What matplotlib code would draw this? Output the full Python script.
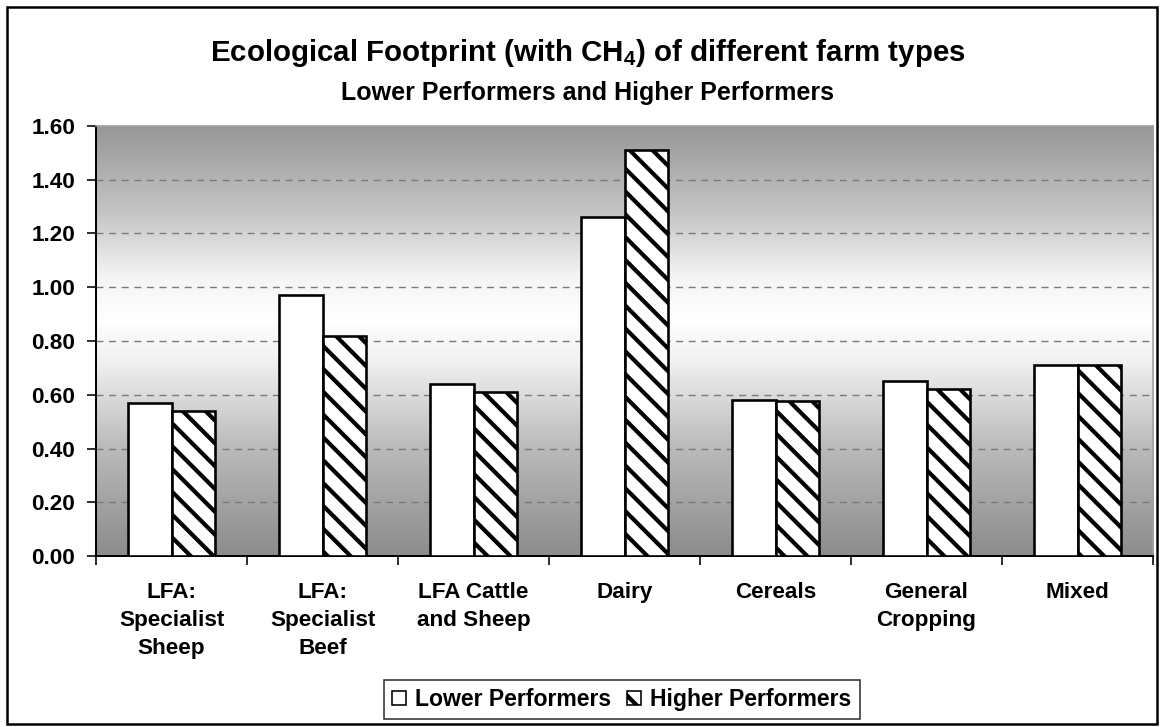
import numpy as np
import matplotlib
matplotlib.use("Agg")
import matplotlib.pyplot as plt
from matplotlib.colors import LinearSegmentedColormap
from matplotlib.patches import Rectangle

# a higher dpi makes the hatch denser (hatch spacing is fixed per inch)
DPI = 137


def px(p):
    # pixel size -> points at this dpi
    return p * 72.0 / DPI


plt.rcParams['font.family'] = ['Liberation Sans', 'DejaVu Sans']
plt.rcParams['font.weight'] = 'bold'
plt.rcParams['mathtext.fontset'] = 'custom'
plt.rcParams['mathtext.rm'] = 'Liberation Sans:bold'
plt.rcParams['mathtext.default'] = 'rm'
plt.rcParams['hatch.linewidth'] = px(4.2)

# data
categories = ['LFA:\nSpecialist\nSheep', 'LFA:\nSpecialist\nBeef', 'LFA Cattle\nand Sheep',
              'Dairy', 'Cereals', 'General\nCropping', 'Mixed']
lower_perf = [0.57, 0.97, 0.64, 1.26, 0.58, 0.65, 0.71]
higher_perf = [0.54, 0.82, 0.61, 1.51, 0.575, 0.62, 0.71]
series_names = ['Lower Performers', 'Higher Performers']
y_ticks = [0.0, 0.2, 0.4, 0.6, 0.8, 1.0, 1.2, 1.4, 1.6]

fig = plt.figure(figsize=(1164 / DPI, 727 / DPI), dpi=DPI)
ax = fig.add_axes([0.0825, 0.2352, 0.9081, 0.5915])

# outer chart border
fig.patches.append(Rectangle((0.006, 0.004), 0.988, 0.986, transform=fig.transFigure,
                             fill=False, edgecolor='black', linewidth=px(2.5)))

# grey-white-grey background gradient
grad_cmap = LinearSegmentedColormap.from_list(
    'bg', [(0.0, '#8c8c8c'), (0.25, '#bababa'), (0.45, '#f0f0f0'), (0.55, '#ffffff'),
           (0.65, '#f4f4f4'), (0.8, '#c4c4c4'), (1.0, '#979797')])
grad = np.linspace(0, 1, 256).reshape(-1, 1)
ax.imshow(grad, cmap=grad_cmap, aspect='auto', origin='lower',
          extent=[-0.5, len(categories) - 0.5, 0, 1.6], zorder=0)

x = np.arange(len(categories))
w = 0.288
ax.bar(x - w / 2, lower_perf, w, color='white', edgecolor='black', linewidth=px(2.6),
       label=series_names[0], zorder=3)
ax.bar(x + w / 2, higher_perf, w, color='white', edgecolor='black', linewidth=px(2.6),
       hatch='\\\\', label=series_names[1], zorder=3)

ax.set_xlim(-0.5, len(categories) - 0.5)
ax.set_ylim(0, 1.6)
ax.set_yticks(y_ticks)
ax.set_yticklabels(['%.2f' % v for v in y_ticks], fontsize=px(22.5), fontweight='bold')
for v in y_ticks[1:-1]:
    ax.axhline(v, color='#7a7a7a', linewidth=px(1.4), linestyle=(0, (5, 4)), zorder=1)

ax.set_xticks(np.arange(-0.5, len(categories)), minor=False)
ax.set_xticklabels([])
ax.set_xticks(x, minor=True)
ax.set_xticklabels(categories, minor=True, fontsize=px(22.5), fontweight='bold',
                   linespacing=1.45)
ax.tick_params(axis='x', which='minor', length=0, pad=px(26))
ax.tick_params(axis='x', which='major', length=px(9), width=px(1.6), direction='out')
ax.tick_params(axis='y', length=px(9), width=px(1.6), direction='out', pad=px(12))

for s in ['left', 'bottom']:
    ax.spines[s].set_linewidth(px(2))
for s in ['top', 'right']:
    ax.spines[s].set_color('#a0a0a0')
    ax.spines[s].set_linewidth(px(1.6))

fig.text(0.505, 0.927, 'Ecological Footprint (with CH$_4$) of different farm types',
         ha='center', va='center', fontsize=px(29.5), fontweight='bold')
fig.text(0.505, 0.872, 'Lower Performers and Higher Performers',
         ha='center', va='center', fontsize=px(25), fontweight='bold')

leg = fig.legend(loc='upper left', bbox_to_anchor=(384 / 1164, 1 - 680 / 727), ncol=2,
                 fontsize=px(23), frameon=True, fancybox=False, handlelength=0.6,
                 handleheight=0.6, handletextpad=0.4, columnspacing=0.7, borderpad=0.35,
                 borderaxespad=0)
leg.get_frame().set_edgecolor('black')
leg.get_frame().set_linewidth(px(1.6))
for t in leg.get_texts():
    t.set_fontweight('bold')
for h in leg.legend_handles:
    h.set_linewidth(px(1.6))

fig.savefig('out.png', dpi=DPI)
